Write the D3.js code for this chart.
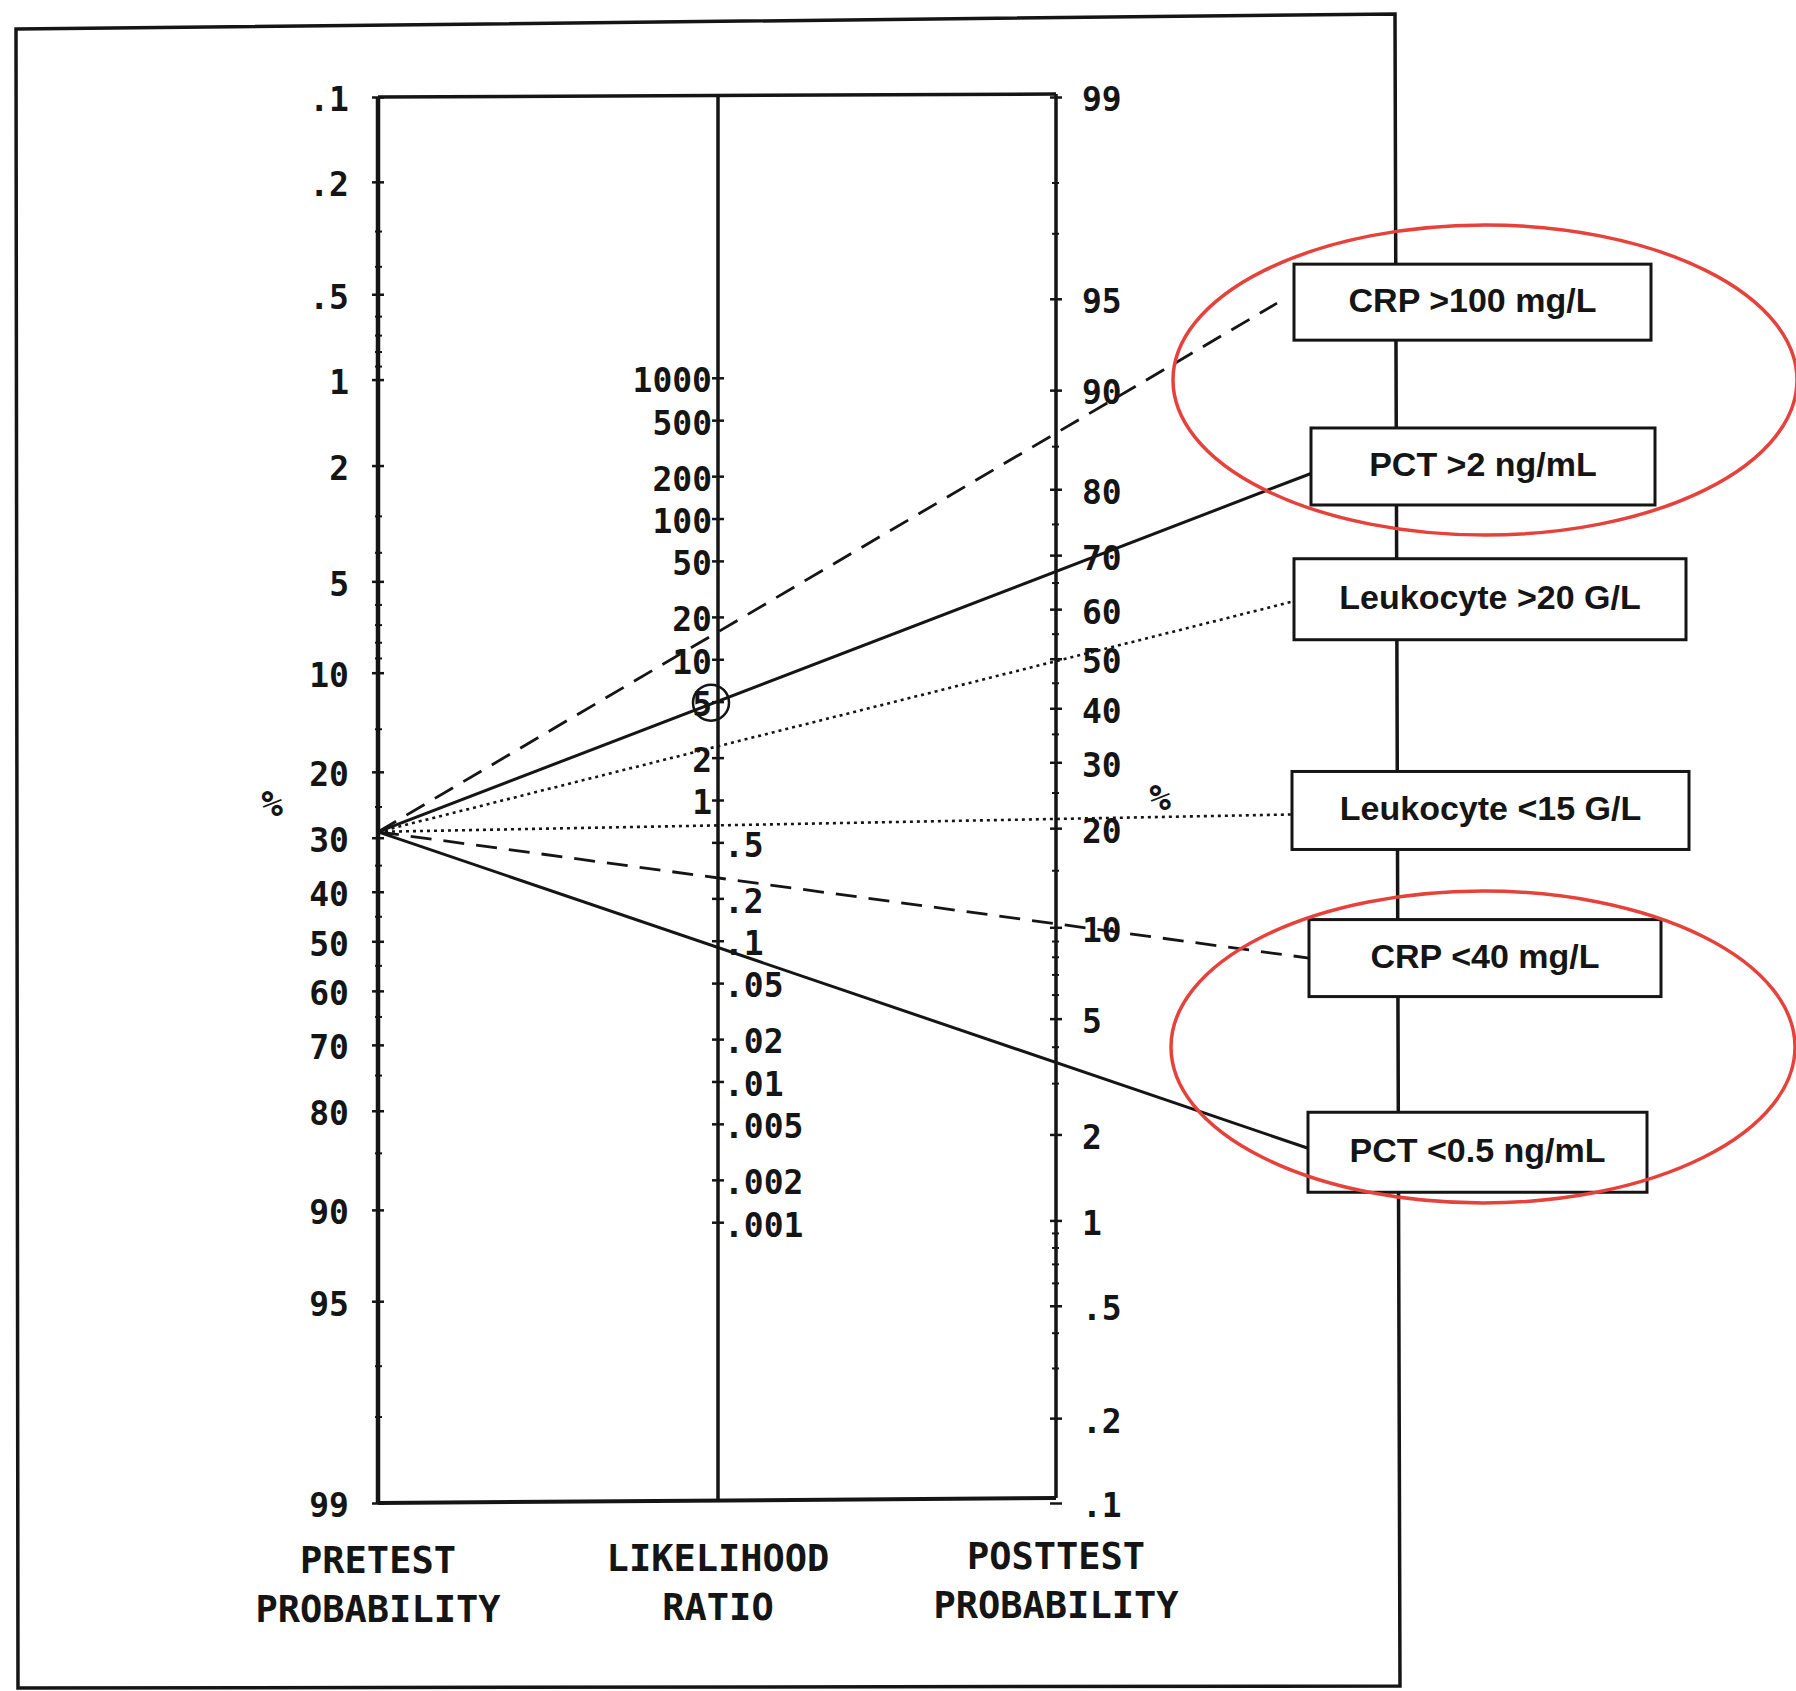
<!DOCTYPE html>
<html><head><meta charset="utf-8">
<script src="https://cdn.jsdelivr.net/npm/d3@7"></script>
<style>html,body{margin:0;padding:0;background:#fff}</style>
</head><body><svg id="c" width="1796" height="1691"></svg>
<script>
// ---- data ----
const pretestTicks = [0.1,0.2,0.5,1,2,5,10,20,30,40,50,60,70,80,90,95,99];
const pretestLabels = [".1",".2",".5","1","2","5","10","20","30","40","50","60","70","80","90","95","99"];
const posttestTicks = [99,95,90,80,70,60,50,40,30,20,10,5,2,1,0.5,0.2,0.1];
const posttestLabels = ["99","95","90","80","70","60","50","40","30","20","10","5","2","1",".5",".2",".1"];
const minorProbTicks = [0.3,0.4,0.6,0.7,0.8,0.9,3,4,6,7,8,9,15,25,35,45,55,65,75,85,97,98];
const lrTicksHigh = [1000,500,200,100,50,20,10,5,2,1];
const lrLabelsHigh = ["1000","500","200","100","50","20","10","5","2","1"];
const lrTicksLow = [0.5,0.2,0.1,0.05,0.02,0.01,0.005,0.002,0.001];
const lrLabelsLow = [".5",".2",".1",".05",".02",".01",".005",".002",".001"];
const pretestProbability = 29;
const tests = ["CRP >100 mg/L","PCT >2 ng/mL","Leukocyte >20 G/L","Leukocyte <15 G/L","CRP <40 mg/L","PCT <0.5 ng/mL"];
const likelihoodRatios = [15.5, 5, 2.4, 0.66, 0.28, 0.09];
const lineTypes = ["dashed","solid","dotted","dotted","dashed","solid"];
const highlightedLR = 5;
const axisTitles = [["PRETEST","PROBABILITY"],["LIKELIHOOD","RATIO"],["POSTTEST","PROBABILITY"]];

// ---- layout ----
const xL = 378, xM = 718, xR = 1056, yTop = 97, yBot = 1503;
const boxLeft = [1294,1311,1294,1292,1309,1308];
const boxWidth = [357,344,392,397,352,339];
const boxHeights = [76,77,81,78,77,80];
const boxShift = [-1,-7,-2,-4,0,4];
const lineGap = [17,0,0,0,0,0];
const ink = "#151515";
const monoFont = "'DejaVu Sans Mono', monospace";

const svg = d3.select("#c");
const logit = p => Math.log(p / (1 - p));
const pMin = 0.001, pMax = 0.99;
const span = logit(pMax) - logit(pMin);
const sPre = d3.scaleLinear().domain([logit(pMin), logit(pMax)]).range([yTop, yBot]);
const sPost = d3.scaleLinear().domain([logit(pMax), logit(pMin)]).range([yTop, yBot]);
const sLR = d3.scaleLinear().domain([span, -span]).range([yTop, yBot]);

// outer frame (slightly skewed scan)
svg.append("path")
  .attr("d", "M16,29 L1395,14 L1400,1686 L18,1688 Z")
  .attr("fill", "none").attr("stroke", ink).attr("stroke-width", 3.5);

// nomogram frame
const frame = svg.append("g").attr("stroke", ink).attr("fill", "none");
frame.append("line").attr("x1", xL).attr("x2", xR).attr("y1", yTop).attr("y2", yTop - 3).attr("stroke-width", 3.5);
frame.append("line").attr("x1", xL).attr("x2", xR).attr("y1", yBot).attr("y2", yBot - 5).attr("stroke-width", 4);
frame.append("line").attr("x1", xL).attr("x2", xL).attr("y1", yTop).attr("y2", yBot).attr("stroke-width", 4.5);
frame.append("line").attr("x1", xM).attr("x2", xM).attr("y1", yTop - 2).attr("y2", yBot - 2).attr("stroke-width", 3.5);
frame.append("line").attr("x1", xR).attr("x2", xR).attr("y1", yTop - 3).attr("y2", yBot - 5).attr("stroke-width", 3.5);

function styleAxis(g, tickHalf) {
  g.select(".domain").remove();
  g.attr("font-family", monoFont).attr("font-size", 33).attr("font-weight", "bold");
  g.selectAll(".tick line").attr("x1", -tickHalf).attr("x2", tickHalf).attr("stroke", ink).attr("stroke-width", 2.5);
  g.selectAll(".tick text").attr("fill", ink).attr("dy", "0.42em");
}

// minor ticks
svg.append("g").selectAll("line").data(minorProbTicks).join("line")
  .attr("x1", xL - 3).attr("x2", xL + 4)
  .attr("y1", d => sPre(logit(d / 100))).attr("y2", d => sPre(logit(d / 100)))
  .attr("stroke", ink).attr("stroke-width", 2);
svg.append("g").selectAll("line").data(minorProbTicks).join("line")
  .attr("x1", xR - 4).attr("x2", xR + 3)
  .attr("y1", d => sPost(logit(d / 100))).attr("y2", d => sPost(logit(d / 100)))
  .attr("stroke", ink).attr("stroke-width", 2);

// pretest axis
svg.append("g").attr("transform", `translate(${xL},0)`)
  .call(d3.axisLeft(sPre).tickValues(pretestTicks.map(v => logit(v / 100)))
    .tickFormat((d, i) => pretestLabels[i]).tickSize(0).tickPadding(29))
  .call(g => styleAxis(g, 6));

// posttest axis
svg.append("g").attr("transform", `translate(${xR},0)`)
  .call(d3.axisRight(sPost).tickValues(posttestTicks.map(v => logit(v / 100)))
    .tickFormat((d, i) => posttestLabels[i]).tickSize(0).tickPadding(26))
  .call(g => styleAxis(g, 6));

// likelihood ratio axis
svg.append("g").attr("transform", `translate(${xM},0)`)
  .call(d3.axisLeft(sLR).tickValues(lrTicksHigh.map(v => Math.log(v)))
    .tickFormat((d, i) => lrLabelsHigh[i]).tickSize(0).tickPadding(6))
  .call(g => styleAxis(g, 6));
svg.append("g").attr("transform", `translate(${xM},0)`)
  .call(d3.axisRight(sLR).tickValues(lrTicksLow.map(v => Math.log(v)))
    .tickFormat((d, i) => lrLabelsLow[i]).tickSize(0).tickPadding(6))
  .call(g => styleAxis(g, 6));

// circled LR
svg.append("circle").attr("cx", xM - 7).attr("cy", sLR(Math.log(highlightedLR)) + 1).attr("r", 18)
  .attr("fill", "none").attr("stroke", ink).attr("stroke-width", 2.5);

// percent marks
[[272, 816], [1160, 810]].forEach(p => {
  svg.append("text").attr("x", p[0]).attr("y", p[1]).attr("text-anchor", "middle")
    .attr("font-family", monoFont).attr("font-size", 36).attr("font-weight", "bold").attr("fill", ink).text("%");
});

// axis titles
const titleX = [xL, xM, xR];
axisTitles.forEach((t, i) => {
  svg.append("g").selectAll("text").data(t).join("text")
    .attr("x", titleX[i]).attr("y", (d, j) => 1573 - i * 2 + j * 49)
    .attr("text-anchor", "middle").attr("font-family", monoFont)
    .attr("font-size", 37).attr("fill", ink).attr("font-weight", "bold")
    .text(d => d);
});

// test lines
const dashes = { solid: null, dashed: "21,12", dotted: "3,4" };
const widths = { solid: 3, dashed: 2.8, dotted: 2.6 };
const yPre = sPre(logit(pretestProbability / 100));
const lineData = tests.map((name, i) => {
  const lr = likelihoodRatios[i];
  const post = logit(pretestProbability / 100) + Math.log(lr);
  const yPost = sPost(post);
  const slope = (yPost - yPre) / (xR - xL);
  const xEnd = boxLeft[i] - lineGap[i];
  return { name, type: lineTypes[i], pts: [[xL, yPre], [xEnd, yPre + slope * (xEnd - xL)]] };
});
const line = d3.line();
svg.append("g").selectAll("path").data(lineData).join("path")
  .attr("d", d => line(d.pts))
  .attr("fill", "none").attr("stroke", ink)
  .attr("stroke-width", d => widths[d.type])
  .attr("stroke-dasharray", d => dashes[d.type]);

// boxes
const boxes = svg.append("g").selectAll("g").data(lineData).join("g")
  .attr("transform", (d, i) => `translate(${boxLeft[i]},${d.pts[1][1] + boxShift[i] - boxHeights[i] / 2})`);
boxes.append("rect").attr("width", (d, i) => boxWidth[i]).attr("height", (d, i) => boxHeights[i])
  .attr("fill", "#fff").attr("stroke", ink).attr("stroke-width", 3);
boxes.append("text").attr("x", (d, i) => boxWidth[i] / 2).attr("y", (d, i) => boxHeights[i] / 2 + 10)
  .attr("text-anchor", "middle").attr("font-family", "'Liberation Sans', Arial, sans-serif")
  .attr("font-size", 34).attr("font-weight", "bold").attr("fill", ink).text(d => d.name);

// red annotation ellipses
svg.append("ellipse").attr("cx", 1485).attr("cy", 380).attr("rx", 312).attr("ry", 155)
  .attr("fill", "none").attr("stroke", "#e4423a").attr("stroke-width", 3.5);
svg.append("ellipse").attr("cx", 1483).attr("cy", 1047).attr("rx", 312).attr("ry", 156)
  .attr("fill", "none").attr("stroke", "#e4423a").attr("stroke-width", 3.5);
</script></body></html>
